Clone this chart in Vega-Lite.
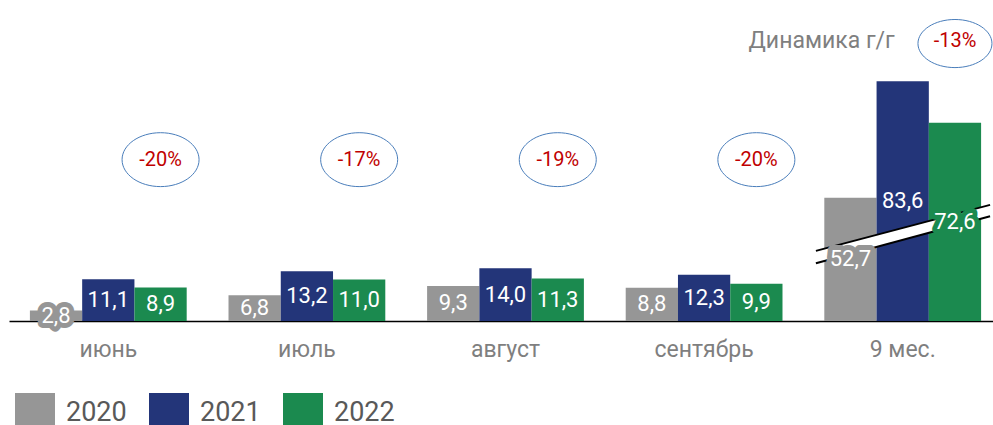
{
  "$schema": "https://vega.github.io/schema/vega-lite/v6.json",
  "width": 993,
  "height": 321,
  "autosize": {"type": "none"},
  "padding": {"left": 9, "top": 0, "right": 0, "bottom": 104},
  "background": "white",
  "config": {"font": "Roboto", "view": {"stroke": null}},
  "datasets": {
    "bars": [
      {"cat": "июнь", "year": "2020", "value": 2.8, "bar": 2.8, "label": "2,8"},
      {"cat": "июнь", "year": "2021", "value": 11.1, "bar": 11.1, "label": "11,1"},
      {"cat": "июнь", "year": "2022", "value": 8.9, "bar": 8.9, "label": "8,9"},
      {"cat": "июль", "year": "2020", "value": 6.8, "bar": 6.8, "label": "6,8"},
      {"cat": "июль", "year": "2021", "value": 13.2, "bar": 13.2, "label": "13,2"},
      {"cat": "июль", "year": "2022", "value": 11.0, "bar": 11.0, "label": "11,0"},
      {"cat": "август", "year": "2020", "value": 9.3, "bar": 9.3, "label": "9,3"},
      {"cat": "август", "year": "2021", "value": 14.0, "bar": 14.0, "label": "14,0"},
      {"cat": "август", "year": "2022", "value": 11.3, "bar": 11.3, "label": "11,3"},
      {"cat": "сентябрь", "year": "2020", "value": 8.8, "bar": 8.8, "label": "8,8"},
      {"cat": "сентябрь", "year": "2021", "value": 12.3, "bar": 12.3, "label": "12,3"},
      {"cat": "сентябрь", "year": "2022", "value": 9.9, "bar": 9.9, "label": "9,9"},
      {"cat": "9 мес.", "year": "2020", "value": 52.7, "bar": 32.7, "label": "52,7"},
      {"cat": "9 мес.", "year": "2021", "value": 83.6, "bar": 63.6, "label": "83,6"},
      {"cat": "9 мес.", "year": "2022", "value": 72.6, "bar": 52.6, "label": "72,6"}
    ],
    "pct": [
      {"cat": "июнь", "year": "2022", "pct": "-20%"},
      {"cat": "июль", "year": "2022", "pct": "-17%"},
      {"cat": "август", "year": "2022", "pct": "-19%"},
      {"cat": "сентябрь", "year": "2022", "pct": "-20%"},
      {"cat": "9 мес.", "year": "2022", "pct": "-13%"}
    ],
    "brkArea": [
      {"bx": 4.063, "top": 18.6, "bot": 15.3},
      {"bx": 4.94, "top": 30.8, "bot": 27.8}
    ],
    "brkLines": [
      {"x1": 4.063, "y1": 18.6, "x2": 4.94, "y2": 30.8},
      {"x1": 4.063, "y1": 15.3, "x2": 4.94, "y2": 27.8}
    ]
  },
  "resolve": {"scale": {"x": "independent", "xOffset": "independent"}, "axis": {"x": "independent"}},
  "layer": [
    {
      "data": {"name": "bars"},
      "mark": {"type": "bar"},
      "encoding": {
        "x": {"field": "cat", "type": "nominal", "sort": null, "title": null,
          "scale": {"type": "band", "domain": ["июнь", "июль", "август", "сентябрь", "9 мес."], "paddingInner": 0, "paddingOuter": 0},
          "axis": {"labelFontSize": 23, "labelColor": "#7f7f7f", "labelPadding": 17, "ticks": false, "domainColor": "#000000", "domainWidth": 1.5, "labelAngle": 0, "grid": false}},
        "xOffset": {"field": "year", "type": "nominal", "scale": {"type": "band", "domain": ["2020", "2021", "2022"], "paddingInner": 0, "paddingOuter": 0.4}},
        "y": {"field": "bar", "type": "quantitative", "scale": {"domain": [0, 85.15], "nice": false}, "axis": null},
        "color": {"field": "year", "type": "nominal",
          "scale": {"domain": ["2020", "2021", "2022"], "range": ["#969696", "#233579", "#1b8a4f"]},
          "legend": {"title": null, "orient": "none", "legendX": 6, "legendY": 393, "direction": "horizontal", "symbolType": "square", "symbolSize": 1600, "symbolStrokeWidth": 0, "symbolOpacity": 1, "labelFontSize": 27, "labelColor": "#595959", "labelOffset": 11, "columnPadding": 22, "padding": 0}}
      }
    },
    {
      "layer": [
        {
          "data": {"name": "brkArea"},
          "mark": {"type": "area", "fill": "white", "opacity": 1},
          "encoding": {
            "x": {"field": "bx", "type": "quantitative", "scale": {"domain": [0, 5], "nice": false, "zero": false}, "axis": null},
            "y": {"field": "top", "type": "quantitative"},
            "y2": {"field": "bot"}
          }
        },
        {
          "data": {"name": "brkLines"},
          "mark": {"type": "rule", "color": "#000000", "strokeWidth": 2},
          "encoding": {
            "x": {"field": "x1", "type": "quantitative", "scale": {"domain": [0, 5], "nice": false, "zero": false}, "axis": null},
            "x2": {"field": "x2"},
            "y": {"field": "y1", "type": "quantitative"},
            "y2": {"field": "y2"}
          }
        }
      ]
    },
    {
      "layer": [
        {
          "data": {"name": "bars"},
          "transform": [{"filter": "datum.year == '2020' && (datum.cat == 'июнь' || datum.cat == '9 мес.')"}, {"calculate": "datum.bar / 2", "as": "mid"}],
          "mark": {"type": "text", "fontSize": 22, "fill": "#969696", "stroke": "#969696", "strokeWidth": 10, "strokeOpacity": 1, "strokeJoin": "round", "baseline": "middle", "align": "center"},
          "encoding": {
            "x": {"field": "cat", "type": "nominal", "sort": null, "scale": {"type": "band", "domain": ["июнь", "июль", "август", "сентябрь", "9 мес."], "paddingInner": 0, "paddingOuter": 0}, "axis": null},
            "xOffset": {"field": "year", "type": "nominal", "scale": {"type": "band", "domain": ["2020", "2021", "2022"], "paddingInner": 0, "paddingOuter": 0.4}},
            "y": {"field": "mid", "type": "quantitative"},
            "text": {"field": "label"}
          }
        },
        {
          "data": {"name": "bars"},
          "transform": [{"filter": "datum.year == '2022' && datum.cat == '9 мес.'"}, {"calculate": "datum.bar / 2", "as": "mid"}],
          "mark": {"type": "text", "fontSize": 22, "fill": "#1b8a4f", "stroke": "#1b8a4f", "strokeWidth": 10, "strokeOpacity": 1, "strokeJoin": "round", "baseline": "middle", "align": "center"},
          "encoding": {
            "x": {"field": "cat", "type": "nominal", "sort": null, "scale": {"type": "band"}, "axis": null},
            "xOffset": {"field": "year", "type": "nominal", "scale": {"type": "band"}},
            "y": {"field": "mid", "type": "quantitative"},
            "text": {"field": "label"}
          }
        },
        {
          "data": {"name": "bars"},
          "transform": [{"calculate": "datum.bar / 2", "as": "mid"}],
          "mark": {"type": "text", "fontSize": 22, "color": "#ffffff", "baseline": "middle", "align": "center"},
          "encoding": {
            "x": {"field": "cat", "type": "nominal", "sort": null, "scale": {"type": "band"}, "axis": null},
            "xOffset": {"field": "year", "type": "nominal", "scale": {"type": "band"}},
            "y": {"field": "mid", "type": "quantitative"},
            "text": {"field": "label"}
          }
        },
        {
          "data": {"name": "pct"},
          "transform": [{"filter": "datum.cat != '9 мес.'"}],
          "mark": {"type": "point", "filled": false, "stroke": "#4a7ebb", "strokeWidth": 1, "opacity": 1, "size": 5929,
            "shape": "M -1 0 C -1 -0.3866 -0.5523 -0.7 0 -0.7 C 0.5523 -0.7 1 -0.3866 1 0 C 1 0.3866 0.5523 0.7 0 0.7 C -0.5523 0.7 -1 0.3866 -1 0 Z"},
          "encoding": {
            "x": {"field": "cat", "type": "nominal", "sort": null, "scale": {"type": "band"}, "axis": null},
            "xOffset": {"field": "year", "type": "nominal", "scale": {"type": "band"}},
            "y": {"datum": 42.8, "type": "quantitative"}
          }
        },
        {
          "data": {"name": "pct"},
          "transform": [{"filter": "datum.cat == '9 мес.'"}],
          "mark": {"type": "point", "filled": false, "stroke": "#4a7ebb", "strokeWidth": 1, "opacity": 1, "size": 5476,
            "shape": "M -1 0 C -1 -0.359 -0.5523 -0.65 0 -0.65 C 0.5523 -0.65 1 -0.359 1 0 C 1 0.359 0.5523 0.65 0 0.65 C -0.5523 0.65 -1 0.359 -1 0 Z"},
          "encoding": {
            "x": {"field": "cat", "type": "nominal", "sort": null, "scale": {"type": "band"}, "axis": null},
            "xOffset": {"field": "year", "type": "nominal", "scale": {"type": "band"}},
            "y": {"datum": 73.6, "type": "quantitative"}
          }
        },
        {
          "data": {"name": "pct"},
          "transform": [{"filter": "datum.cat != '9 мес.'"}],
          "mark": {"type": "text", "fontSize": 20, "color": "#c00000", "baseline": "middle", "align": "center"},
          "encoding": {
            "x": {"field": "cat", "type": "nominal", "sort": null, "scale": {"type": "band"}, "axis": null},
            "xOffset": {"field": "year", "type": "nominal", "scale": {"type": "band"}},
            "y": {"datum": 42.8, "type": "quantitative"},
            "text": {"field": "pct"}
          }
        },
        {
          "data": {"name": "pct"},
          "transform": [{"filter": "datum.cat == '9 мес.'"}],
          "mark": {"type": "text", "fontSize": 20, "color": "#c00000", "baseline": "middle", "align": "center"},
          "encoding": {
            "x": {"field": "cat", "type": "nominal", "sort": null, "scale": {"type": "band"}, "axis": null},
            "xOffset": {"field": "year", "type": "nominal", "scale": {"type": "band"}},
            "y": {"datum": 74.4, "type": "quantitative"},
            "text": {"field": "pct"}
          }
        },
        {
          "data": {"values": [{"cat": "9 мес.", "t": "Динамика г/г"}]},
          "mark": {"type": "text", "fontSize": 23, "color": "#7f7f7f", "baseline": "middle", "align": "right", "dx": -8},
          "encoding": {
            "x": {"field": "cat", "type": "nominal", "sort": null, "scale": {"type": "band"}, "axis": null},
            "y": {"datum": 74.4, "type": "quantitative"},
            "text": {"field": "t"}
          }
        }
      ]
    }
  ]
}
